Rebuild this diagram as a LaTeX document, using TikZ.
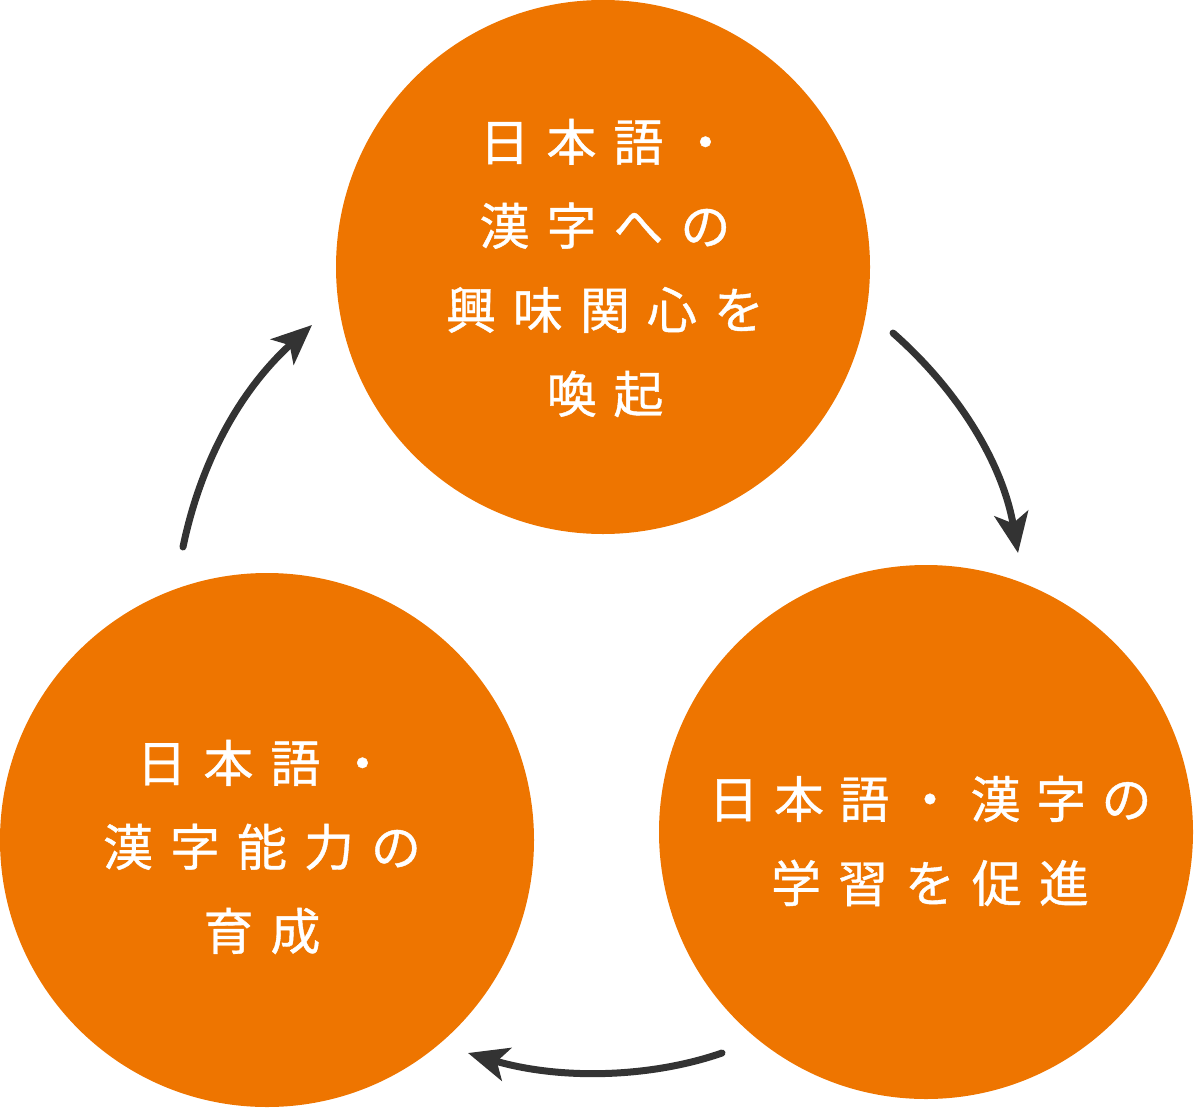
\documentclass[tikz,border=0pt]{standalone}
\usepackage{fontspec}
\newfontfamily\jp[FakeBold=0.8]{Noto Sans CJK JP}
\usetikzlibrary{arrows.meta}
\definecolor{circorange}{HTML}{EE7500}
\definecolor{arrowgray}{HTML}{333333}
\newcommand\gp{\hspace{17pt}}
\newcommand\gq{\hspace{15.5pt}}
\begin{document}
\begin{tikzpicture}[x=1pt,y=-1pt,
  bubble/.style={circle,fill=circorange,draw=none,minimum size=534pt,inner sep=0pt},
  label/.style={text=white,align=center,font=\jp\fontsize{50}{84}\selectfont,inner sep=0pt},
  flow/.style={draw=arrowgray,line width=7pt,line cap=round,
    -{Stealth[length=40pt,width=34pt,inset=10pt]}}]
\useasboundingbox (0,0) rectangle (1194,1108);
\node[bubble] (top) at (603,267) {};
\node[bubble] (right) at (926,832) {};
\node[bubble] (left) at (267,840) {};
\node[label] (ttop) at (605,268) {日\gp 本\gp 語\gp ・\\漢\gp 字\gp へ\gp の\\興\gp 味\gp 関\gp 心\gp を\\喚\gp 起};
\node[label] (tright) at (930,841) {日\gq 本\gq 語\gq ・\gq 漢\gq 字\gq の\\学\gp 習\gp を\gp 促\gp 進};
\node[label] (tleft) at (262,847) {日\gp 本\gp 語\gp ・\\漢\gp 字\gp 能\gp 力\gp の\\育\gp 成};
\coordinate (a1s) at (893,333);
\coordinate (a1e) at (1018,553);
\coordinate (a2s) at (722,1053);
\coordinate (a2e) at (468,1053);
\coordinate (a3s) at (183,547);
\coordinate (a3e) at (312,325);
\draw[flow] (a1s) .. controls (960,392) and (1003,465) .. (a1e);
\draw[flow] (a2s) .. controls (650,1078) and (560,1080) .. (a2e);
\draw[flow] (a3s) .. controls (200,465) and (238,392) .. (a3e);
\end{tikzpicture}
\end{document}
